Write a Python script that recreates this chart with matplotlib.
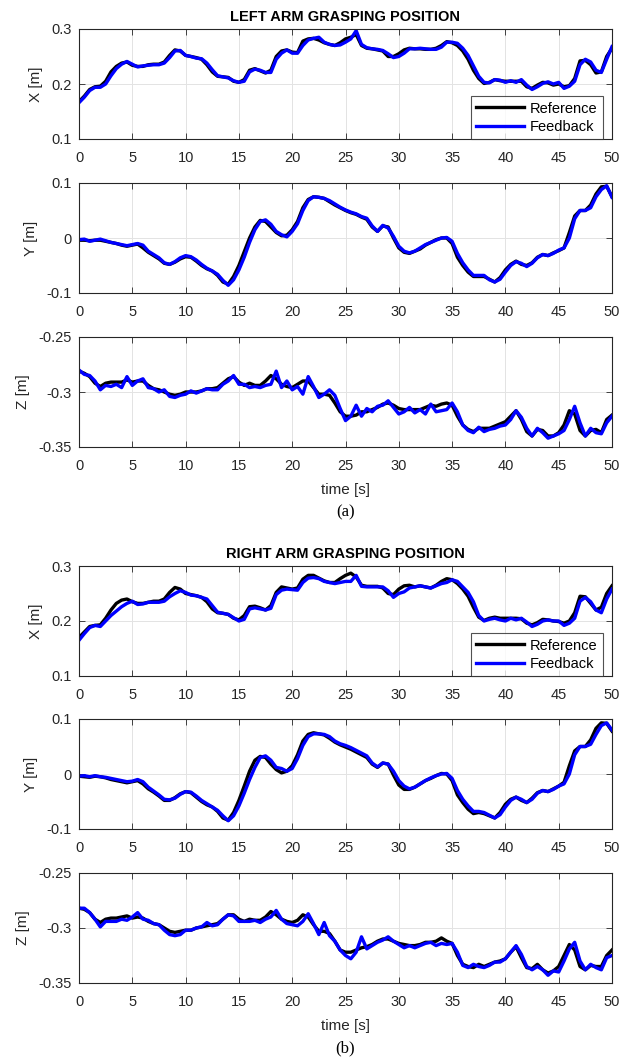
import numpy as np
import matplotlib
matplotlib.use("Agg")
import matplotlib.pyplot as plt

# time axis, 0.5 s steps
t = np.arange(0, 50.5, 0.5)

# values, in mm
x_ref_left = [168, 178, 190, 195, 196, 205, 222, 232, 238, 240, 234, 232, 232, 235, 236, 236, 240, 252, 262, 260,
              252, 250, 248, 245, 235, 222, 214, 213, 212, 205, 203, 208, 225, 228, 224, 220, 225, 250, 260, 262,
              258, 257, 278, 282, 283, 280, 275, 272, 270, 275, 282, 285, 290, 270, 265, 264, 262, 260, 250, 250,
              255, 262, 265, 264, 264, 263, 263, 265, 270, 277, 275, 270, 260, 245, 225, 210, 201, 203, 208, 206,
              205, 205, 205, 205, 195, 192, 198, 203, 202, 198, 200, 195, 197, 210, 242, 243, 235, 220, 222, 250, 265]
x_fb_left = [166, 176, 188, 194, 194, 200, 215, 228, 236, 241, 236, 231, 233, 234, 235, 235, 238, 248, 260, 261,
             252, 250, 247, 246, 238, 226, 215, 213, 211, 206, 203, 205, 222, 227, 225, 221, 221, 245, 256, 262,
             256, 256, 270, 280, 283, 285, 276, 272, 270, 271, 276, 282, 297, 272, 266, 264, 263, 261, 255, 248,
             250, 256, 264, 264, 265, 264, 263, 263, 267, 276, 276, 274, 265, 252, 233, 214, 203, 202, 208, 207,
             203, 206, 203, 208, 198, 190, 195, 201, 204, 200, 203, 192, 196, 205, 235, 245, 240, 225, 221, 245, 268]
y_ref_left = [-4, -4, -5, -4, -4, -6, -8, -10, -13, -15, -13, -11, -18, -26, -32, -38, -46, -48, -44, -38,
              -34, -35, -42, -50, -56, -60, -68, -80, -84, -70, -50, -25, 0, 20, 32, 30, 20, 10, 4, 5,
              15, 30, 55, 70, 75, 74, 72, 66, 60, 55, 50, 46, 43, 38, 34, 20, 12, 22, 20, 0,
              -18, -26, -28, -24, -20, -13, -8, -3, 0, 0, -10, -35, -50, -62, -70, -70, -70, -75, -80, -72,
              -58, -48, -42, -48, -50, -45, -35, -30, -32, -27, -23, -18, 10, 40, 50, 50, 60, 80, 93, 94, 75]
y_fb_left = [-3, -2, -6, -4, -2, -5, -8, -10, -12, -14, -12, -10, -13, -24, -30, -36, -45, -48, -43, -36,
             -32, -34, -40, -48, -55, -60, -66, -77, -86, -76, -58, -35, -8, 15, 30, 33, 25, 12, 6, 2,
             12, 26, 50, 68, 75, 74, 72, 68, 62, 56, 51, 47, 44, 39, 36, 22, 12, 23, 18, 3,
             -15, -24, -27, -24, -18, -12, -8, -4, 0, 1, -6, -28, -45, -58, -68, -68, -68, -76, -80, -75,
             -62, -50, -43, -46, -52, -46, -36, -30, -32, -28, -22, -18, 0, 35, 50, 50, 55, 75, 88, 95, 74]
z_ref_left = [-281, -283, -286, -292, -295, -292, -291, -291, -291, -289, -291, -290, -290, -294, -297, -298, -300, -302, -303, -302,
              -300, -300, -300, -299, -297, -297, -296, -292, -288, -286, -291, -294, -292, -294, -294, -290, -285, -288, -293, -295,
              -296, -293, -290, -290, -296, -302, -302, -303, -310, -318, -322, -322, -321, -318, -318, -316, -314, -311, -310, -312,
              -315, -316, -316, -316, -316, -314, -312, -313, -311, -310, -312, -322, -330, -334, -336, -333, -333, -333, -331, -329,
              -327, -322, -317, -325, -336, -340, -334, -335, -340, -340, -337, -330, -317, -320, -335, -340, -335, -334, -337, -325, -321]
z_fb_left = [-280, -284, -285, -290, -298, -294, -295, -293, -296, -286, -294, -290, -288, -296, -297, -300, -298, -304, -305, -303,
             -302, -299, -301, -299, -297, -298, -298, -293, -290, -285, -293, -293, -296, -295, -296, -294, -293, -281, -296, -290,
             -298, -295, -302, -286, -295, -305, -302, -298, -303, -315, -326, -322, -312, -322, -315, -318, -313, -312, -308, -314,
             -320, -318, -314, -319, -316, -320, -311, -318, -317, -316, -310, -318, -330, -335, -337, -332, -336, -334, -333, -331,
             -330, -325, -317, -323, -333, -340, -333, -337, -342, -340, -338, -335, -325, -313, -328, -340, -333, -337, -338, -328, -322]

x_ref_right = [170, 180, 190, 192, 193, 205, 220, 232, 238, 240, 235, 232, 232, 234, 236, 236, 240, 252, 261, 258,
               250, 248, 246, 243, 235, 222, 215, 214, 212, 205, 202, 210, 226, 227, 224, 220, 228, 252, 262, 260,
               258, 260, 276, 283, 283, 278, 273, 270, 270, 277, 283, 287, 280, 265, 263, 263, 263, 260, 250, 248,
               258, 264, 265, 262, 264, 262, 260, 265, 272, 277, 275, 268, 258, 245, 225, 207, 201, 205, 207, 205,
               205, 205, 205, 204, 196, 193, 197, 203, 202, 200, 199, 196, 200, 215, 245, 244, 232, 220, 225, 250, 264]
x_fb_right = [165, 177, 188, 192, 190, 200, 210, 218, 226, 232, 236, 230, 231, 234, 234, 234, 236, 244, 250, 255,
              252, 247, 246, 243, 240, 228, 216, 214, 212, 206, 200, 203, 222, 224, 222, 220, 223, 248, 256, 258,
              257, 256, 270, 278, 279, 277, 272, 270, 268, 270, 272, 272, 283, 263, 262, 262, 262, 262, 255, 243,
              250, 253, 260, 262, 264, 262, 260, 264, 268, 270, 275, 272, 262, 252, 235, 210, 200, 203, 205, 202,
              200, 205, 202, 205, 198, 190, 194, 200, 202, 200, 200, 192, 196, 205, 236, 243, 235, 220, 215, 240, 258]
y_ref_right = [-4, -5, -6, -4, -5, -7, -10, -12, -14, -16, -14, -12, -18, -27, -33, -40, -48, -48, -43, -36,
               -32, -34, -42, -50, -56, -60, -68, -80, -84, -70, -48, -22, 5, 25, 32, 30, 18, 8, 2, 5,
               15, 35, 60, 72, 75, 73, 71, 65, 58, 53, 49, 45, 40, 35, 30, 18, 12, 20, 18, -2,
               -20, -28, -28, -24, -18, -12, -8, -3, 1, 0, -12, -38, -52, -64, -72, -70, -72, -76, -80, -70,
               -55, -46, -42, -48, -52, -44, -34, -30, -32, -27, -22, -15, 15, 42, 50, 50, 62, 83, 93, 92, 78]
y_fb_right = [-4, -3, -5, -3, -5, -6, -8, -10, -12, -14, -13, -10, -14, -24, -31, -38, -46, -47, -44, -37,
              -32, -33, -40, -48, -54, -60, -66, -76, -85, -76, -58, -35, -10, 12, 30, 33, 25, 12, 10, 5,
              10, 28, 52, 68, 73, 73, 72, 68, 60, 55, 52, 48, 43, 38, 33, 20, 13, 20, 18, 5,
              -12, -22, -27, -24, -18, -12, -7, -3, 0, 1, -8, -30, -46, -58, -68, -68, -70, -75, -80, -74,
              -60, -48, -42, -46, -52, -46, -35, -30, -32, -28, -22, -18, 0, 35, 50, 50, 54, 72, 88, 93, 80]
z_ref_right = [-282, -283, -286, -292, -295, -292, -291, -291, -290, -289, -291, -290, -291, -294, -296, -297, -300, -303, -304, -303,
               -302, -302, -300, -299, -298, -297, -296, -292, -288, -288, -292, -294, -292, -293, -293, -290, -285, -288, -292, -294,
               -295, -293, -288, -290, -297, -303, -303, -305, -312, -320, -322, -322, -320, -318, -317, -315, -312, -310, -310, -312,
               -314, -315, -316, -316, -315, -313, -313, -312, -309, -312, -314, -325, -333, -335, -336, -333, -335, -333, -331, -330,
               -328, -322, -317, -327, -336, -337, -333, -338, -341, -339, -335, -325, -315, -320, -335, -338, -334, -335, -335, -325, -320]
z_fb_right = [-282, -282, -286, -292, -299, -294, -294, -294, -292, -293, -290, -286, -292, -293, -296, -297, -302, -306, -307, -306,
              -302, -302, -300, -299, -295, -298, -297, -292, -288, -289, -294, -294, -294, -293, -295, -292, -290, -284, -292, -296,
              -297, -298, -294, -287, -296, -306, -295, -307, -312, -320, -325, -328, -322, -308, -319, -316, -313, -311, -308, -312,
              -315, -318, -316, -318, -316, -314, -313, -316, -314, -315, -314, -322, -334, -336, -333, -335, -336, -334, -331, -331,
              -328, -322, -316, -324, -335, -338, -335, -338, -343, -339, -340, -330, -319, -313, -330, -338, -333, -336, -338, -327, -325]

plt.rcParams['font.family'] = ['Liberation Sans', 'DejaVu Sans']
plt.rcParams['font.size'] = 10

fig = plt.figure(figsize=(6.36, 10.6), dpi=100)
W, H = 636, 1060


def make_axes(top, bottom):
    return fig.add_axes([79 / W, 1 - bottom / H, 533 / W, (bottom - top) / H])


def style(ax, ylim, yticks, ylabel, show_xlabel=False):
    ax.set_xlim(0, 50)
    ax.set_ylim(*ylim)
    ax.set_xticks(range(0, 51, 5))
    ax.set_yticks(yticks)
    ax.set_yticklabels([f"{v:g}" for v in yticks])
    ax.grid(True, color='#e3e3e3', linewidth=0.7)
    ax.set_axisbelow(True)
    ax.tick_params(direction='in', length=4, width=0.6, top=True, right=True,
                   labelsize=10.5, colors='#262626')
    ax.tick_params(axis='x', pad=8.5)
    ax.tick_params(axis='y', pad=5)
    for s in ax.spines.values():
        s.set_linewidth(0.8)
        s.set_color('#262626')
    ax.set_ylabel(ylabel, fontsize=11, color='#262626', labelpad=6)
    if show_xlabel:
        ax.set_xlabel('time [s]', fontsize=11, color='#262626', labelpad=7)


groups = [
    ("LEFT ARM GRASPING POSITION", "(a)", [29, 183, 337],
     [(x_ref_left, x_fb_left), (y_ref_left, y_fb_left), (z_ref_left, z_fb_left)]),
    ("RIGHT ARM GRASPING POSITION", "(b)", [566, 719, 873],
     [(x_ref_right, x_fb_right), (y_ref_right, y_fb_right), (z_ref_right, z_fb_right)]),
]
limits = [((0.1, 0.3), [0.1, 0.2, 0.3], 'X [m]'),
          ((-0.1, 0.1), [-0.1, 0, 0.1], 'Y [m]'),
          ((-0.35, -0.25), [-0.35, -0.3, -0.25], 'Z [m]')]

for title, tag, tops, series in groups:
    for i, (top, (ref, fb), (ylim, yticks, ylabel)) in enumerate(zip(tops, series, limits)):
        ax = make_axes(top, top + 110)
        ax.plot(t, np.array(ref) / 1000, color='black', linewidth=2.4, label='Reference')
        ax.plot(t, np.array(fb) / 1000, color='blue', linewidth=2.4, label='Feedback')
        style(ax, ylim, yticks, ylabel, show_xlabel=(i == 2))
        if i == 0:
            ax.set_title(title, fontsize=10.5, fontweight='bold', pad=6)
            leg = ax.legend(loc='lower right', bbox_to_anchor=(0.983, 0.0), fontsize=10.5,
                            frameon=True, fancybox=False, edgecolor='#262626',
                            handlelength=3.3, borderaxespad=0, borderpad=0.35,
                            labelspacing=0.3, handletextpad=0.4)
            leg.get_frame().set_linewidth(0.8)
        if i == 2:
            fig.text(0.5 * (79 + 612) / W, 1 - (top + 175) / H, tag, ha='center', va='center',
                     family='Liberation Serif', fontsize=12)

fig.savefig('out.png', dpi=100)
